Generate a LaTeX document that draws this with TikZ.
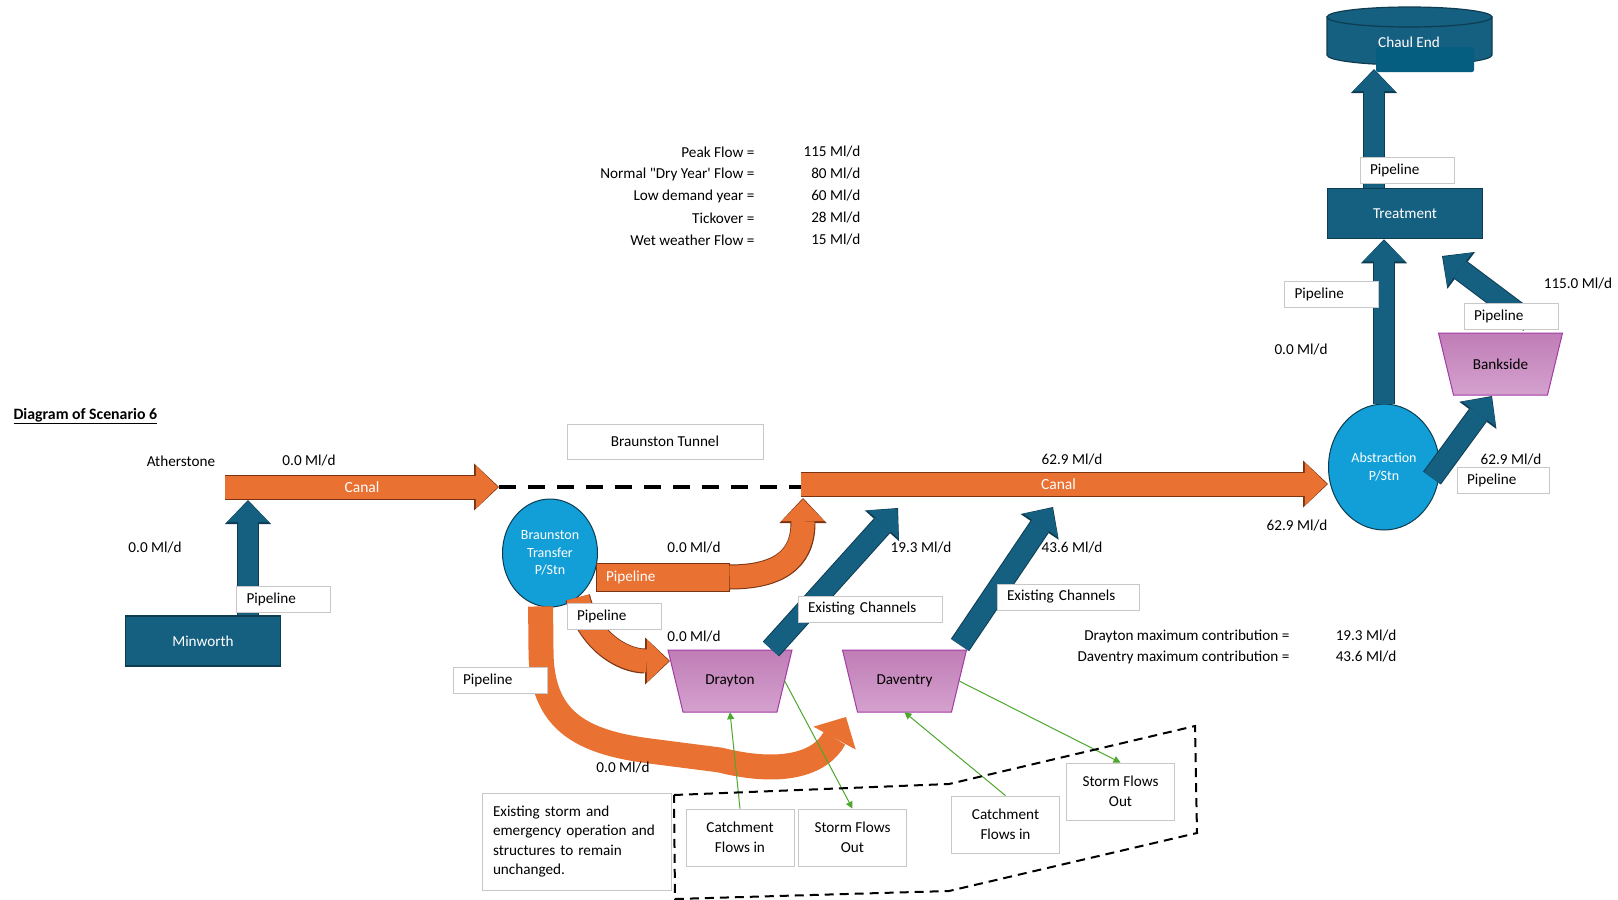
\documentclass[tikz,border=0pt]{standalone}
\usepackage{fontspec}
\setmainfont{Carlito}
\newfontfamily\plainq{Carlito}[Ligatures=TeXOff]
\usetikzlibrary{arrows.meta,shapes.geometric,positioning}
\definecolor{tealc}{HTML}{155F80}
\definecolor{tealdk}{HTML}{0E3D52}
\definecolor{tealov}{HTML}{055E80}
\definecolor{orangec}{HTML}{E97132}
\definecolor{orangedk}{HTML}{7A3412}
\definecolor{bluec}{HTML}{129ED6}
\definecolor{pinktop}{HTML}{C07DB6}
\definecolor{pinkbot}{HTML}{D4A1CE}
\definecolor{pinkdk}{HTML}{A23BA6}
\definecolor{greenc}{HTML}{4EA72E}
\definecolor{boxgray}{HTML}{C8C8C8}
\begin{document}
\begin{tikzpicture}[x=1pt,y=-1pt,line join=miter,font=\fontsize{15.2}{19.5}\selectfont,
	works/.style={draw=tealdk,fill=tealc,text=white,line width=1.5pt,minimum width=155,minimum height=50,inner sep=0},
	pstn/.style={ellipse,draw=tealdk,fill=bluec,text=white,line width=1pt,align=center,inner sep=0,font=\fontsize{14}{17.5}\selectfont},
	stwbody/.style={draw=pinkdk,line width=1pt,top color=pinktop,bottom color=pinkbot},
	tag/.style={draw=boxgray,fill=white,line width=0.8pt,minimum height=26,text width=74,inner xsep=10,inner ysep=0,align=left},
	cbox/.style={draw=boxgray,fill=white,line width=0.8pt,minimum width=108,minimum height=57,inner sep=0,align=center},
	tflow/.style={draw=tealc,line width=20pt,shorten >=1.2pt,-{Triangle[length=21pt,width=42pt,line width=0pt]},
		preaction={draw=tealdk,line width=22pt,shorten >=0pt,-{Triangle[length=24pt,width=46pt,line width=0pt]}}},
	oflow/.style={draw=orangec,line width=23pt,shorten >=1.2pt,-{Triangle[length=22pt,width=43pt,line width=0pt]},
		preaction={draw=orangedk,line width=25pt,shorten >=0pt,-{Triangle[length=25pt,width=47pt,line width=0pt]}}},
	gflow/.style={draw=greenc,line width=1pt,-{Triangle[length=7pt,width=7pt]}}]
\path[use as bounding box,fill=white] (0,0) rectangle (1618,900);

% sites
\node[works] (minworth) at (203,641) {Minworth};
\node[works] (treat) at (1405,213.5) {Treatment};
\node[pstn,minimum width=95,minimum height=108] (braun) at (550,553) {Braunston\\Transfer\\P/Stn};
\node[pstn,minimum width=111,minimum height=126] (abstr) at (1384,467) {Abstraction\\P/Stn};
\foreach \nm/\cx/\cy/\txt in {drayton/730/681/Drayton,daventry/904.5/681/Daventry,bankside/1500.5/364/Bankside}{
	\shadedraw[stwbody] (\cx-62,\cy-31) -- (\cx+62,\cy-31) -- (\cx+47,\cy+31) -- (\cx-47,\cy+31) -- cycle;
	\node[minimum width=109,minimum height=62,inner sep=0] (\nm) at (\cx,\cy) {\txt};
}
\draw[fill=tealc,draw=tealdk,line width=1.2pt] (1327,17) -- (1327,55) arc[start angle=180,end angle=0,x radius=82.5,y radius=10] -- (1492,17) -- cycle;
\draw[fill=tealc,draw=tealdk,line width=1.2pt] (1409.5,17) ellipse[x radius=82.5,y radius=10];
\fill[tealov,rounded corners=2pt] (1376,47) rectangle (1474,72);
\node[text=white] (chaul) at (1409,42) {Chaul End};

% canal and tunnel
\coordinate (ath) at (225,487);
\coordinate (tunw) at (499,487);
\coordinate (tune) at (801,484);
\draw[oflow] (ath) -- (tunw) node[midway,text=white,font=\fontsize{15.5}{18}\selectfont] (canal1) {Canal};
\draw[line width=3.5pt,dash pattern=on 17pt off 12pt] (tunw) -- (tunw -| tune);
\draw[oflow] (tune) -- (abstr.west |- tune) node[midway,xshift=-6,text=white,font=\fontsize{15.5}{18}\selectfont] (canal2) {Canal};

% pipelines and channels
\coordinate (mwup) at (248,500);
\coordinate (drt) at (771,649);
\coordinate (dru) at (898,508);
\coordinate (dvt) at (960,645);
\coordinate (dvu) at (1053,507);
\coordinate (abt) at (1432,478);
\coordinate (bku) at (1492,396);
\coordinate (bkt) at (1530,322);
\coordinate (trin) at (1442,256);
\coordinate (chin) at (1374,69);
\draw[tflow] (minworth.north -| mwup) -- (mwup);
\draw[tflow] (drt) -- (dru);
\draw[tflow] (dvt) -- (dvu);
\draw[tflow] (abt) -- (bku);
\draw[tflow] (abstr.north) -- (abstr.north |- treat.south);
\draw[tflow] (bkt) -- (trin);
\draw[tflow] (treat.north -| chin) -- (chin);

\draw[draw=orangec,line width=25pt,-{Triangle[length=24pt,width=48pt,line width=0pt]}] (braun.260) -- (541,650) .. controls (541,720) and (580,742) .. (650,751) -- (720,760) .. controls (780,775) and (820,765) .. (846,717);
\draw[oflow] (braun.-58) .. controls (588,640) and (622,661) .. (670,661);
\node[draw=orangedk,fill=orangec,text=white,line width=1pt,minimum height=28,text width=113,inner xsep=10,inner ysep=0,align=left] (pipe1) at (662.5,577) {Pipeline};
\draw[oflow] (pipe1.east) .. controls (775,577) and (803,562) .. (803,498);

% labels
\node[tag] (pl1) at (283.5,599) {Pipeline};
\node[tag] (pl2) at (1407,170.5) {Pipeline};
\node[tag] (pl3) at (1331.5,294) {Pipeline};
\node[tag] (pl4) at (1511,316.5) {Pipeline};
\node[tag,text width=72] (pl5) at (1503,480) {Pipeline};
\node[tag] (pl6) at (614,616.5) {Pipeline};
\node[tag] (pl7) at (500,680.5) {Pipeline};
\node[tag,text width=124] (ch1) at (870,609) {Existing Channels};
\node[tag,text width=122] (ch2) at (1068,597) {Existing Channels};
\node[draw=boxgray,fill=white,line width=0.8pt,minimum width=196,minimum height=35] (tunnel) at (665,441.5) {Braunston Tunnel};
\node[draw=boxgray,fill=white,line width=0.8pt,minimum height=97,text width=167,inner xsep=11,align=left] (storm) at (576.5,841.5) {Existing storm and\\emergency operation and\\structures to remain\\unchanged.};

% storm overflows
\node[cbox] (cat1) at (740,837.5) {Catchment\\Flows in};
\node[cbox] (out1) at (852.5,837.5) {Storm Flows\\Out};
\node[cbox] (cat2) at (1005.5,824.5) {Catchment\\Flows in};
\node[cbox] (out2) at (1120.5,791.5) {Storm Flows\\Out};
\draw[gflow] (cat1.north) -- (drayton.south);
\draw[gflow] (drayton.east) -- (out1.north);
\draw[gflow] (cat2.north) -- (daventry.south);
\draw[gflow] (daventry.east) -- (out2.north);
\draw[line width=2pt,dash pattern=on 9pt off 6pt] (674,795) -- (949,784) -- (1195,726) -- (1197,833) -- (949,891) -- (675,899) -- cycle;

% flows
\node[anchor=west,font=\fontsize{15.8}{19}\selectfont\bfseries] (title) at (10,416) {\underline{Diagram of Scenario 6}};
\path
(181,461) node (athtxt) {Atherstone}
(309,461) node (f1) {0.0 Ml/d}
(155,548) node (f2) {0.0 Ml/d}
(694,548) node (f3) {0.0 Ml/d}
(694,637) node (f4) {0.0 Ml/d}
(623,768) node (f5) {0.0 Ml/d}
(1072,460) node (f6) {62.9 Ml/d}
(921,548) node (f7) {19.3 Ml/d}
(1072,548) node (f8) {43.6 Ml/d}
(1297,526) node (f9) {62.9 Ml/d}
(1511,460) node (f10) {62.9 Ml/d}
(1301,350) node (f11) {0.0 Ml/d}
(1578,284) node (f12) {115.0 Ml/d}
;
\foreach \lab/\flw [count=\i] in {Peak Flow =/115,{\plainq Normal "Dry Year' Flow =}/80,Low demand year =/60,Tickover =/28,Wet weather Flow =/15}
	\path (758,{130+22*\i}) node[anchor=east] (leg\i) {\lab} (864,{130+22*\i}) node[anchor=east] (legv\i) {\flw\ Ml/d};
\path
(1293,636) node[anchor=east] (dmax) {Drayton maximum contribution =}
(1400,636) node[anchor=east] (dmaxv) {19.3 Ml/d}
(1293,657) node[anchor=east] (vmax) {Daventry maximum contribution =}
(1400,657) node[anchor=east] (vmaxv) {43.6 Ml/d}
;
\end{tikzpicture}
\end{document}
